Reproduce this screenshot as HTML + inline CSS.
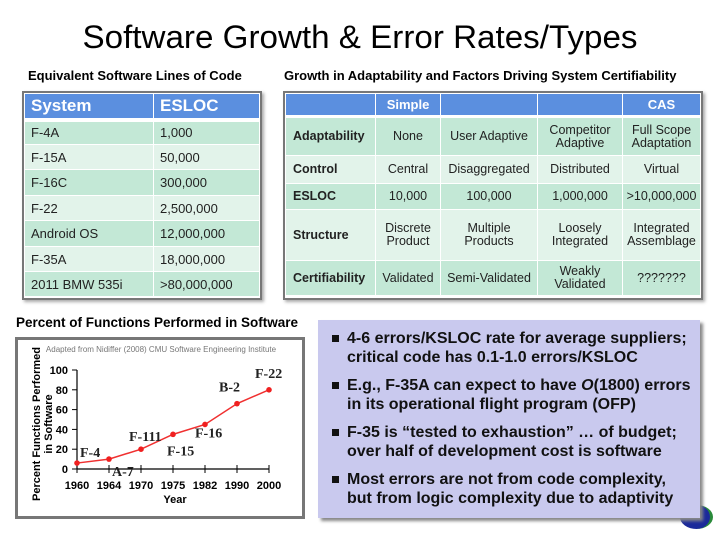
<!DOCTYPE html>
<html><head><meta charset="utf-8"><style>
body{margin:0;width:720px;height:540px;background:#fff;position:relative;overflow:hidden;font-family:"Liberation Sans",sans-serif}
.a{position:absolute}
table{border-collapse:collapse;position:absolute;font-size:13px;color:#222}
td{padding:0;border:1px solid #fff}
.hd{background:#5b8fdf;color:#fff;font-weight:bold}
.d{background:#c3e8d6}.l{background:#e2f3ea}
#t2 td{text-align:center;line-height:13px;font-size:12.5px}
#t2 td.rh{text-align:left;font-weight:bold;padding-left:7px}
</style></head><body>
<svg class="a" style="left:0;top:0" width="720" height="70"><text x="360" y="48" text-anchor="middle" font-family="Liberation Sans, sans-serif" font-size="32" textLength="555" lengthAdjust="spacingAndGlyphs" fill="#000">Software Growth &amp; Error Rates/Types</text></svg>

<div class="a" style="left:28px;top:68px;font-size:13px;font-weight:bold">Equivalent Software Lines of Code</div>
<div class="a" style="left:22px;top:91px;width:236px;height:205px;border:2px solid #777;box-shadow:2px 2px 3px #aaa"></div>
<table id="t1" style="left:24px;top:93px;width:236px">
<tr class="hd" style="height:26px;font-size:17px"><td style="width:122px;padding-left:6px;border-bottom:4px solid #fff">System</td><td style="padding-left:6px;border-bottom:4px solid #fff">ESLOC</td></tr>
<tr class="d" style="height:25px"><td style="padding-left:6px">F-4A</td><td style="padding-left:6px">1,000</td></tr>
<tr class="l" style="height:25px"><td style="padding-left:6px">F-15A</td><td style="padding-left:6px">50,000</td></tr>
<tr class="d" style="height:26px"><td style="padding-left:6px">F-16C</td><td style="padding-left:6px">300,000</td></tr>
<tr class="l" style="height:25px"><td style="padding-left:6px">F-22</td><td style="padding-left:6px">2,500,000</td></tr>
<tr class="d" style="height:26px"><td style="padding-left:6px">Android OS</td><td style="padding-left:6px">12,000,000</td></tr>
<tr class="l" style="height:25px"><td style="padding-left:6px">F-35A</td><td style="padding-left:6px">18,000,000</td></tr>
<tr class="d" style="height:25px"><td style="padding-left:6px">2011 BMW 535i</td><td style="padding-left:6px">&gt;80,000,000</td></tr>
</table>

<div class="a" style="left:284px;top:68px;font-size:13px;font-weight:bold">Growth in Adaptability and Factors Driving System Certifiability</div>
<div class="a" style="left:283px;top:91px;width:416px;height:205px;border:2px solid #777;box-shadow:2px 2px 3px #aaa"></div>
<table id="t2" style="left:285px;top:93px;width:416px">
<tr class="hd" style="height:23px"><td style="width:89px;border-bottom:3px solid #fff"></td><td style="width:64px;font-size:13px;border-bottom:3px solid #fff">Simple</td><td style="width:96px;border-bottom:3px solid #fff"></td><td style="width:84px;border-bottom:3px solid #fff"></td><td style="font-size:13px;border-bottom:3px solid #fff">CAS</td></tr>
<tr class="d" style="height:39px"><td class="rh">Adaptability</td><td>None</td><td>User Adaptive</td><td>Competitor<br>Adaptive</td><td>Full Scope<br>Adaptation</td></tr>
<tr class="l" style="height:28px"><td class="rh">Control</td><td>Central</td><td>Disaggregated</td><td>Distributed</td><td>Virtual</td></tr>
<tr class="d" style="height:26px"><td class="rh">ESLOC</td><td>10,000</td><td>100,000</td><td>1,000,000</td><td>&gt;10,000,000</td></tr>
<tr class="l" style="height:51px"><td class="rh">Structure</td><td>Discrete<br>Product</td><td>Multiple<br>Products</td><td>Loosely<br>Integrated</td><td>Integrated<br>Assemblage</td></tr>
<tr class="d" style="height:35px"><td class="rh">Certifiability</td><td>Validated</td><td>Semi-Validated</td><td>Weakly<br>Validated</td><td>???????</td></tr>
</table>

<div class="a" style="left:16px;top:315px;font-size:13.5px;font-weight:bold">Percent of Functions Performed in Software</div>
<div class="a" style="left:15px;top:337px;width:284px;height:176px;border:3px solid #777"></div>
<svg id="chart" class="a" style="left:0;top:0" width="320" height="540"></svg>

<div class="a" style="left:318px;top:320px;width:382px;height:198px;background:#c9c9ee;box-shadow:3px 3px 3px #888"></div>
<div class="a" style="left:330px;top:329px;width:370px;font-size:16px;font-weight:bold;line-height:19px;color:#111">
<div style="position:relative;padding-left:17px;margin-bottom:9px"><span style="position:absolute;left:2px;top:6px;width:7px;height:7px;background:#111"></span>4-6 errors/KSLOC rate for average suppliers;<br>critical code has 0.1-1.0 errors/KSLOC</div>
<div style="position:relative;padding-left:17px;margin-bottom:9px"><span style="position:absolute;left:2px;top:6px;width:7px;height:7px;background:#111"></span>E.g., F-35A can expect to have <i>O</i>(1800) errors<br>in its operational flight program (OFP)</div>
<div style="position:relative;padding-left:17px;margin-bottom:9px"><span style="position:absolute;left:2px;top:6px;width:7px;height:7px;background:#111"></span>F-35 is “tested to exhaustion” … of budget;<br>over half of development cost is software</div>
<div style="position:relative;padding-left:17px"><span style="position:absolute;left:2px;top:6px;width:7px;height:7px;background:#111"></span>Most errors are not from code complexity,<br>but from logic complexity due to adaptivity</div>
</div>
<div class="a" style="left:680px;top:505px;width:30px;height:24px;border-radius:50%;background:#1b2a9a;border-right:3px solid #2a8a3a;z-index:-1"></div>

<script>
const years=["1960","1964","1970","1975","1982","1990","2000"];
const pct=[6,10,20,35,45,66,80];
const yTicks=[0,20,40,60,80,100];
const planes=["F-4","A-7","F-111","F-15","F-16","B-2","F-22"];
const svg=document.getElementById('chart');const NS='http://www.w3.org/2000/svg';
const x0=77,x1=269,yb=469,yt=370;
const xs=i=>x0+i*(x1-x0)/(years.length-1);
const ys=v=>yb-(v/100)*(yb-yt);
function mk(t,a,txt){const e=document.createElementNS(NS,t);for(const k in a)e.setAttribute(k,a[k]);if(txt!==undefined)e.textContent=txt;svg.appendChild(e);return e;}
let e;
e=mk('text',{x:161,y:352,'text-anchor':'middle','font-size':8,fill:'#777'},'Adapted from Nidiffer (2008) CMU Software Engineering Institute');


e=mk('line',{x1:x0,y1:yt,x2:x0,y2:yb,stroke:'#000','stroke-width':1.2});


e=mk('line',{x1:x0,y1:yb,x2:x1,y2:yb,stroke:'#000','stroke-width':1.2});


yTicks.forEach(v=>{
 e=mk('line',{x1:x0-5,y1:ys(v),x2:x0,y2:ys(v),stroke:'#000'});
 
 
 e=mk('text',{x:x0-9,y:ys(v)+4,'text-anchor':'end','font-size':11,'font-weight':'bold'},String(v));
 
 
});
years.forEach((y,i)=>{
 e=mk('line',{x1:xs(i),y1:yb-4,x2:xs(i),y2:yb+4,stroke:'#000'});
 
 
 e=mk('text',{x:xs(i),y:yb+20,'text-anchor':'middle','font-size':11,'font-weight':'bold'},y);
 
 
});
e=mk('text',{x:175,y:503,'text-anchor':'middle','font-size':11,'font-weight':'bold'},'Year');


e=mk('text',{x:0,y:0,'text-anchor':'middle','font-size':11,'font-weight':'bold',transform:'translate(40,424) rotate(-90)'});


const t1=document.createElementNS(NS,'tspan');t1.setAttribute('x',0);t1.setAttribute('dy',0);t1.textContent='Percent Functions Performed';e.appendChild(t1);
const t2=document.createElementNS(NS,'tspan');t2.setAttribute('x',0);t2.setAttribute('dy',12);t2.textContent='in Software';e.appendChild(t2);
e=mk('polyline',{points:pct.map((v,i)=>xs(i)+','+ys(v)).join(' '),fill:'none',stroke:'#f03030','stroke-width':1.5});


pct.forEach((v,i)=>{
 e=mk('circle',{cx:xs(i),cy:ys(v),r:2.8,fill:'#f02020'});
 
 
});
const lblDx=[3,3,-12,-6,-10,-18,-14];
const lblDy=[-6,17,-8,21,13,-12,-12];
planes.forEach((p,i)=>{
 e=mk('text',{x:xs(i)+lblDx[i],y:ys(pct[i])+lblDy[i],'font-family':'Liberation Serif, serif','font-size':14,'font-weight':'bold',fill:'#222'},p);
 
 
});
</script>
</body></html>
